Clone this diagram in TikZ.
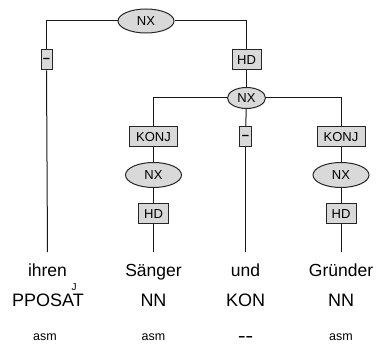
\documentclass[tikz,border=0pt]{standalone}
\usepackage{fontspec}
\setmainfont{Liberation Sans}
\usetikzlibrary{shapes.geometric}
\begin{document}
\begin{tikzpicture}[x=1pt,y=-1pt,line width=1pt,
  edge/.style={draw=black!90},
  lab/.style={draw=black!85,fill=black!15,rectangle,minimum height=20pt,inner sep=0pt,font=\fontsize{13}{14}\selectfont},
  cat/.style={draw=black!85,fill=black!15,ellipse,inner sep=0pt,font=\fontsize{13}{14}\selectfont},
  word/.style={font=\fontsize{17.5}{20}\selectfont,text height=12.5pt,text depth=0pt,inner ysep=11pt,inner xsep=0pt,anchor=base},
  postag/.style={font=\fontsize{18}{20}\selectfont,anchor=base,inner sep=0pt},
  morph/.style={font=\fontsize{12.5}{14}\selectfont,anchor=base,inner sep=0pt}]
\useasboundingbox (0,0) rectangle (377,347);
% nodes
\node[cat,minimum width=56pt,minimum height=24pt] (nxA) at (146,21) {NX};
\node[lab,minimum width=11pt] (dA) at (46.5,60) {\bfseries –};
\node[lab,minimum width=29pt] (hdA) at (246.5,60) {HD};
\node[cat,minimum width=38pt,minimum height=21pt] (nxB) at (246.5,98) {NX};
\node[lab,minimum width=48pt] (kjA) at (153.5,137) {KONJ};
\node[lab,minimum width=12pt] (dB) at (245.5,137) {\bfseries –};
\node[lab,minimum width=48pt] (kjB) at (341,137) {KONJ};
\node[cat,minimum width=56pt,minimum height=25pt] (nxC) at (153.5,175) {NX};
\node[cat,minimum width=56pt,minimum height=25pt] (nxD) at (341,175) {NX};
\node[lab,minimum width=30pt] (hdC) at (153.5,214) {HD};
\node[lab,minimum width=30pt] (hdD) at (341,214) {HD};
% words
\node[word] (w1) at (47.5,276) {ihren};
\node[word] (w2) at (153.5,276) {Sänger};
\node[word] (w3) at (245.5,276) {und};
\node[word] (w4) at (341,276) {Gründer};
\node[font=\fontsize{10}{11}\selectfont,inner sep=0pt] (jm) at (74,287) {J};
\node[postag] (p1) at (48,306) {PPOSAT};
\node[postag] (p2) at (153.5,306) {NN};
\node[postag] (p3) at (245.5,306) {KON};
\node[postag] (p4) at (341,306) {NN};
\node[morph] (m1) at (45,340) {asm};
\node[morph] (m2) at (153.5,340) {asm};
\node[morph] (m3) at (245.5,340) {\bfseries\scalebox{1.8}[1]{{-}{-}}};
\node[morph] (m4) at (341,340) {asm};
% edges
\draw[edge] (dA.north) |- (nxA.west);
\draw[edge] (nxA.east) -| (hdA.north);
\draw[edge] (hdA) -- (nxB);
\draw[edge] (nxB.west) -| (kjA.north);
\draw[edge] (nxB.east) -| (kjB.north);
\draw[edge] (nxB) -- (dB);
\draw[edge] (kjA) -- (nxC);
\draw[edge] (kjB) -- (nxD);
\draw[edge] (nxC) -- (hdC);
\draw[edge] (nxD) -- (hdD);
\draw[edge] (dA.south) -- (w1.north);
\draw[edge] (hdC.south) -- (w2.north);
\draw[edge] (dB.south) -- (w3.north);
\draw[edge] (hdD.south) -- (w4.north);
\end{tikzpicture}
\end{document}
